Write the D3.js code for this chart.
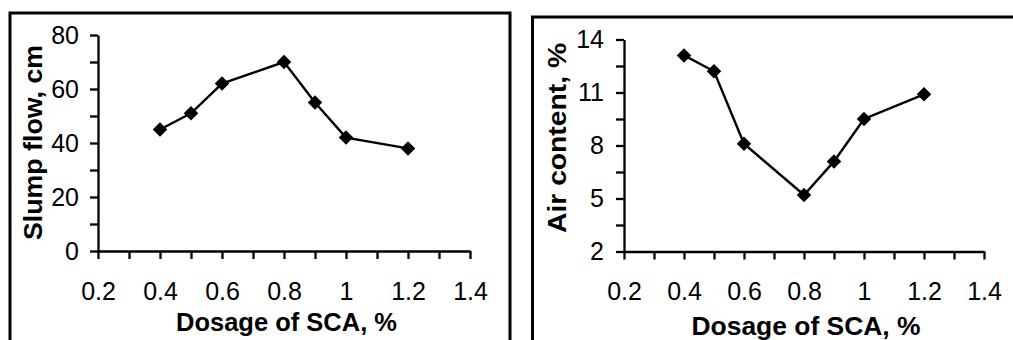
<!DOCTYPE html>
<html>
<head>
<meta charset="utf-8">
<script src="https://cdn.jsdelivr.net/npm/d3@7"></script>
<style>
  html, body { margin: 0; padding: 0; background: #fff; }
  svg { display: block; }
  text { font-family: "Liberation Sans", Arial, sans-serif; fill: #000; }
</style>
</head>
<body>
<svg id="chart" width="1013" height="340"></svg>
<script>
// Dosage of SCA (%) shared by both panels
const dosage = [0.4, 0.5, 0.6, 0.8, 0.9, 1.0, 1.2];
// Slump flow (cm)
const slumpFlow = [45, 51, 62, 70, 55, 42, 38];
// Air content (%)
const airContent = [13.1, 12.2, 8.1, 5.2, 7.1, 9.5, 10.9];

// Axis tick values and labelled ticks
const xTicks = [0.2, 0.3, 0.4, 0.5, 0.6, 0.7, 0.8, 0.9, 1.0, 1.1, 1.2, 1.3, 1.4];
const xLabels = [0.2, 0.4, 0.6, 0.8, 1.0, 1.2, 1.4];
const slumpTicks = [0, 10, 20, 30, 40, 50, 60, 70, 80];
const slumpLabels = [0, 20, 40, 60, 80];
const airTicks = [2, 3.5, 5, 6.5, 8, 9.5, 11, 12.5, 14];
const airLabels = [2, 5, 8, 11, 14];

const svg = d3.select("#chart");
const fmt = d3.format("~g");

const panels = [
  {
    frame: { x: 10, y: 13 },
    xRange: [98, 470], yRange: [251, 35],
    yDomain: [0, 80], yTicks: slumpTicks, yLabels: slumpLabels,
    values: slumpFlow,
    yTitle: "Slump flow, cm", yTitlePos: [42, 142.5], yTitleLen: 195,
    xTitlePos: [286.5, 331], xTitleLen: 221, yPad: 11
  },
  {
    frame: { x: 532.5, y: 17 },
    xRange: [624, 984], yRange: [251.5, 39.5],
    yDomain: [2, 14], yTicks: airTicks, yLabels: airLabels,
    values: airContent,
    yTitle: "Air content, %", yTitlePos: [566, 138], yTitleLen: 190,
    xTitlePos: [806, 335], xTitleLen: 229, yPad: 12
  }
];

panels.forEach(p => {
  // panel border (runs off the canvas at the bottom / right)
  svg.append("rect")
    .attr("x", p.frame.x).attr("y", p.frame.y)
    .attr("width", 500).attr("height", 400)
    .attr("fill", "none").attr("stroke", "#000").attr("stroke-width", 3);

  const x = d3.scaleLinear().domain([0.2, 1.4]).range(p.xRange);
  const y = d3.scaleLinear().domain(p.yDomain).range(p.yRange);

  const xAxis = d3.axisBottom(x)
    .tickValues(xTicks)
    .tickSize(8).tickSizeOuter(0).tickPadding(23)
    .tickFormat(d => xLabels.some(v => Math.abs(v - d) < 1e-9) ? fmt(d) : "");
  const yAxis = d3.axisLeft(y)
    .tickValues(p.yTicks)
    .tickSize(8).tickSizeOuter(0).tickPadding(p.yPad)
    .tickFormat(d => p.yLabels.includes(d) ? fmt(d) : "");

  const gx = svg.append("g")
    .attr("transform", `translate(0,${p.yRange[0]})`)
    .call(xAxis);
  const gy = svg.append("g")
    .attr("transform", `translate(${p.xRange[0]},0)`)
    .call(yAxis);

  [gx, gy].forEach(g => {
    g.selectAll("path, line").attr("stroke", "#000").attr("stroke-width", 2.3);
    g.selectAll("text")
      .style("font-family", '"Liberation Sans", Arial, sans-serif')
      .style("font-size", "25px").attr("fill", "#000");
  });

  const pts = dosage.map((d, i) => [d, p.values[i]]);

  svg.append("path")
    .datum(pts)
    .attr("fill", "none").attr("stroke", "#000").attr("stroke-width", 2.4)
    .attr("d", d3.line().x(d => x(d[0])).y(d => y(d[1])));

  svg.append("g").selectAll("path")
    .data(pts)
    .join("path")
    .attr("d", d3.symbol(d3.symbolSquare, 105))
    .attr("transform", d => `translate(${x(d[0])},${y(d[1])}) rotate(45)`)
    .attr("fill", "#000");

  // axis titles
  svg.append("text")
    .attr("x", p.xTitlePos[0]).attr("y", p.xTitlePos[1])
    .attr("text-anchor", "middle")
    .attr("textLength", p.xTitleLen).attr("lengthAdjust", "spacingAndGlyphs")
    .style("font-size", "25px").style("font-weight", "bold")
    .text("Dosage of SCA, %");

  svg.append("text")
    .attr("transform", `translate(${p.yTitlePos[0]},${p.yTitlePos[1]}) rotate(-90)`)
    .attr("text-anchor", "middle")
    .attr("textLength", p.yTitleLen).attr("lengthAdjust", "spacingAndGlyphs")
    .style("font-size", "25px").style("font-weight", "bold")
    .text(p.yTitle);
});
</script>
</body>
</html>
